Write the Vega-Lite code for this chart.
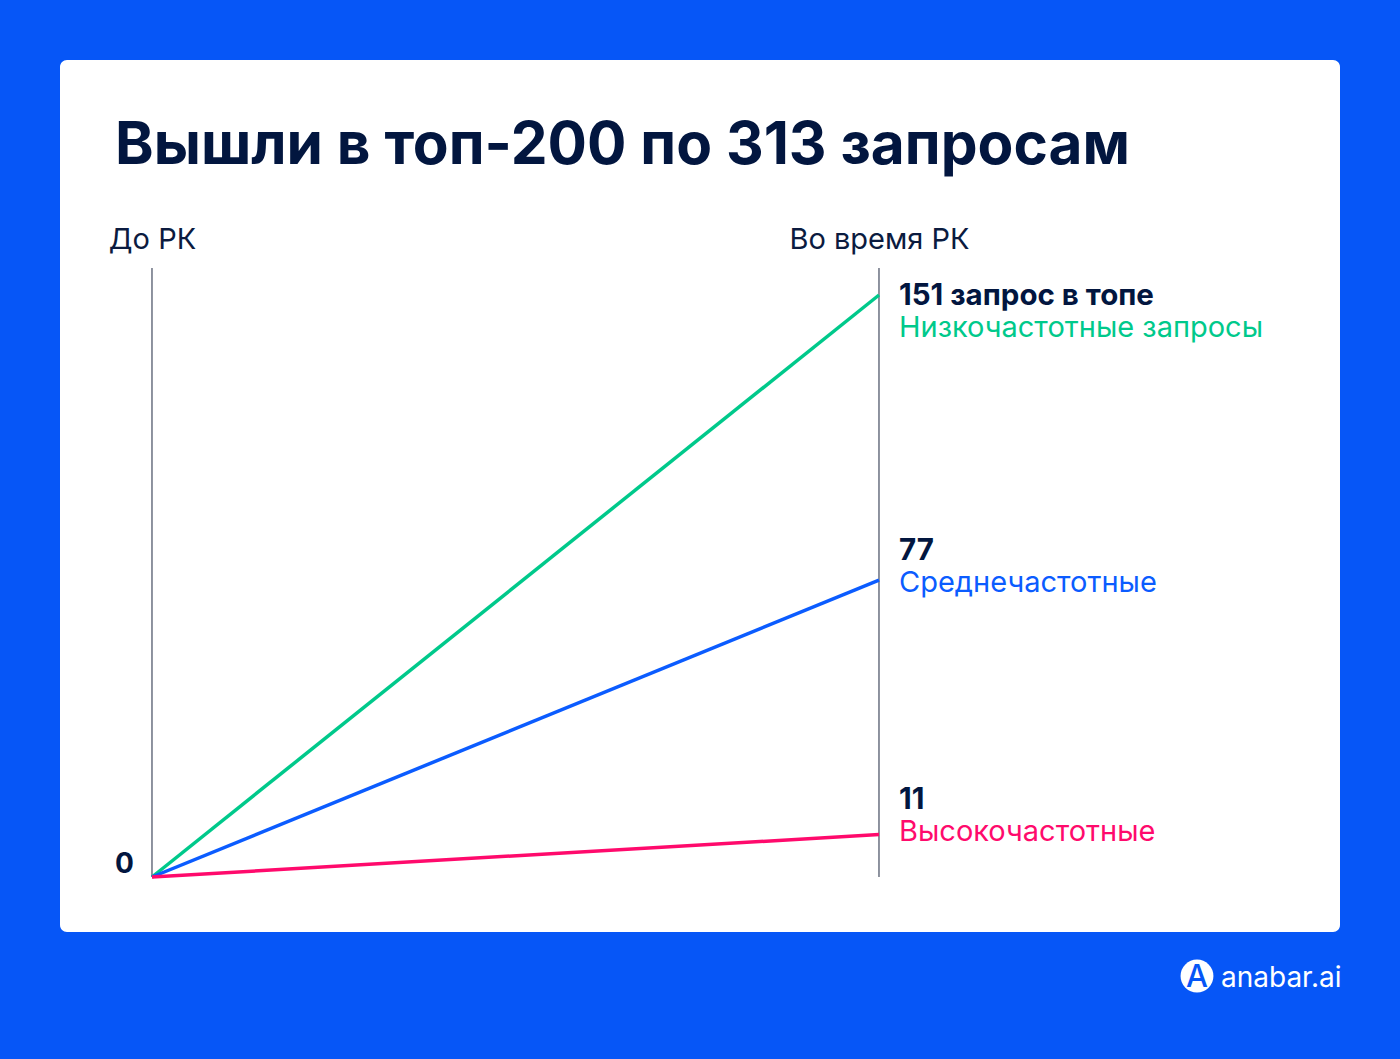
{
  "$schema": "https://vega.github.io/schema/vega-lite/v6.json",
  "width": 1280,
  "height": 872,
  "autosize": {"type": "none"},
  "padding": {"left": 60, "top": 60, "right": 60, "bottom": 127},
  "background": "#0656F7",
  "config": {
    "view": {"fill": "white", "cornerRadius": 7, "stroke": null},
    "font": "Inter"
  },
  "title": {
    "text": "Вышли в топ-200 по 313 запросам",
    "anchor": "start",
    "frame": "group",
    "orient": "top",
    "offset": 0,
    "dx": 55,
    "dy": 162,
    "baseline": "alphabetic",
    "font": "Inter",
    "fontSize": 58.5,
    "fontWeight": 700,
    "color": "#02163F"
  },
  "datasets": {
    "lines": [
      {"series": "Низкочастотные запросы", "stage": 0, "value": 0},
      {"series": "Низкочастотные запросы", "stage": 1, "value": 151},
      {"series": "Среднечастотные", "stage": 0, "value": 0},
      {"series": "Среднечастотные", "stage": 1, "value": 77},
      {"series": "Высокочастотные", "stage": 0, "value": 0},
      {"series": "Высокочастотные", "stage": 1, "value": 11}
    ],
    "labels": [
      {"series": "Низкочастотные запросы", "stage": 1, "value": 151, "head": "151 запрос в топе", "label_y": 140.1},
      {"series": "Среднечастотные", "stage": 1, "value": 77, "head": "77", "label_y": 73.9},
      {"series": "Высокочастотные", "stage": 1, "value": 11, "head": "11", "label_y": 9.3}
    ],
    "stages": [
      {"stage": 0, "name": "До РК"},
      {"stage": 1, "name": "Во время РК"}
    ]
  },
  "layer": [
    {
      "data": {"name": "stages"},
      "mark": {"type": "rule", "color": "#1E2840", "strokeWidth": 1},
      "encoding": {
        "x": {
          "field": "stage",
          "type": "quantitative",
          "scale": {"domain": [-0.126547, 1.634113], "nice": false, "zero": false},
          "axis": {
            "orient": "top",
            "values": [0, 1],
            "labelExpr": "datum.value == 0 ? 'До РК' : 'Во время РК'",
            "title": null,
            "domain": false,
            "ticks": false,
            "grid": false,
            "labelPadding": 0,
            "offset": -188,
            "labelBaseline": "alphabetic",
            "labelAlign": "center",
            "labelFont": "Inter",
            "labelFontSize": 29,
            "labelColor": "#0B1B3F",
            "labelFlush": false,
            "labelOverlap": false,
            "labelLimit": 0
          }
        },
        "y": {"datum": 0, "type": "quantitative", "scale": {"domain": [-14.27, 211.97], "nice": false, "zero": false}, "axis": null},
        "y2": {"datum": 158}
      }
    },
    {
      "data": {"name": "lines"},
      "mark": {"type": "line", "strokeWidth": 3.5},
      "encoding": {
        "x": {"field": "stage", "type": "quantitative"},
        "y": {"field": "value", "type": "quantitative"},
        "color": {
          "field": "series",
          "type": "nominal",
          "scale": {"domain": ["Низкочастотные запросы", "Среднечастотные", "Высокочастотные"], "range": ["#00C98B", "#0B5CFF", "#FF0A6C"]},
          "legend": null
        }
      }
    },
    {
      "data": {"name": "labels"},
      "mark": {"type": "text", "align": "left", "baseline": "alphabetic", "dx": 20, "fontSize": 29, "font": "Inter"},
      "encoding": {
        "x": {"field": "stage", "type": "quantitative"},
        "y": {"field": "label_y", "type": "quantitative"},
        "text": {"field": "series"},
        "color": {"field": "series", "type": "nominal"}
      }
    },
    {
      "data": {"name": "labels"},
      "mark": {"type": "text", "align": "left", "baseline": "alphabetic", "dx": 20, "dy": -32, "fontSize": 29.5, "font": "Inter", "fontWeight": 700, "color": "#02163F"},
      "encoding": {
        "x": {"field": "stage", "type": "quantitative"},
        "y": {"field": "label_y", "type": "quantitative"},
        "text": {"field": "head"}
      }
    },
    {
      "data": {"values": [{"stage": 0, "value": 0, "t": "0"}]},
      "mark": {"type": "text", "align": "right", "baseline": "alphabetic", "dx": -18, "dy": -4, "fontSize": 28, "font": "Inter", "fontWeight": 700, "color": "#02163F"},
      "encoding": {
        "x": {"field": "stage", "type": "quantitative"},
        "y": {"field": "value", "type": "quantitative"},
        "text": {"field": "t"}
      }
    },
    {
      "data": {"values": [{"x": 1.4374, "y": -25.69}]},
      "mark": {"type": "point", "filled": true, "shape": "circle", "size": 1080, "color": "white", "opacity": 1},
      "encoding": {
        "x": {"field": "x", "type": "quantitative"},
        "y": {"field": "y", "type": "quantitative"}
      }
    },
    {
      "data": {"values": [{"x": 1.4374, "y": -25.69, "t": "A"}]},
      "mark": {"type": "text", "align": "center", "baseline": "middle", "dy": 2, "fontSize": 31, "font": "Inter", "fontWeight": 500, "color": "#0656F7"},
      "encoding": {
        "x": {"field": "x", "type": "quantitative"},
        "y": {"field": "y", "type": "quantitative"},
        "text": {"field": "t"}
      }
    },
    {
      "data": {"values": [{"x": 1.4704, "y": -28.54, "t": "anabar.ai"}]},
      "mark": {"type": "text", "align": "left", "baseline": "alphabetic", "fontSize": 28, "font": "Inter", "color": "white"},
      "encoding": {
        "x": {"field": "x", "type": "quantitative"},
        "y": {"field": "y", "type": "quantitative"},
        "text": {"field": "t"}
      }
    }
  ]
}
